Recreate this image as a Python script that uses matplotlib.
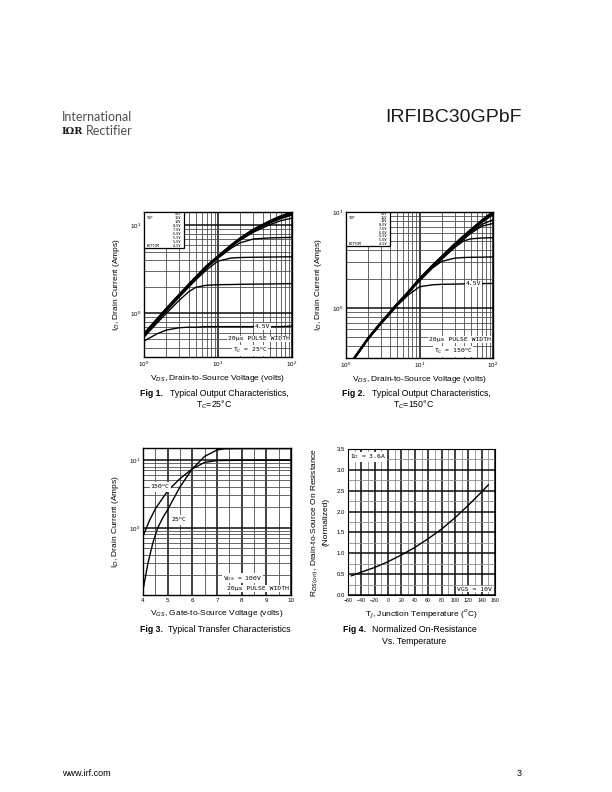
import numpy as np
import matplotlib.pyplot as plt
from matplotlib.patches import Rectangle
from matplotlib.ticker import LogLocator, NullFormatter, LogFormatterSciNotation, MultipleLocator

plt.rcParams['font.family'] = ['Liberation Sans', 'DejaVu Sans']
plt.rcParams['mathtext.fontset'] = 'dejavusans'

# Fig 1 - output characteristics, Tc = 25C
vds1 = [1, 1.5, 2, 3, 4, 5, 7, 10, 15, 20, 30, 50, 70, 100]
id1_15v = [0.58, 0.85, 1.12, 1.62, 2.1, 2.56, 3.42, 4.42, 5.9, 7.1, 8.9, 11.1, 12.6, 14.0]
id1_10v = [0.57, 0.84, 1.11, 1.61, 2.08, 2.53, 3.38, 4.37, 5.82, 7.0, 8.75, 10.9, 12.3, 13.6]
id1_8v = [0.57, 0.84, 1.1, 1.6, 2.07, 2.51, 3.35, 4.33, 5.75, 6.9, 8.6, 10.6, 11.9, 13.1]
id1_7v = [0.56, 0.83, 1.09, 1.58, 2.05, 2.49, 3.32, 4.28, 5.65, 6.75, 8.3, 10.1, 11.2, 12.0]
id1_6v = [0.56, 0.82, 1.07, 1.56, 2.02, 2.46, 3.27, 4.2, 5.45, 6.3, 6.95, 7.15, 7.2, 7.25]
id1_5v5 = [0.55, 0.8, 1.05, 1.52, 1.96, 2.38, 3.1, 3.9, 4.22, 4.28, 4.31, 4.33, 4.35, 4.36]
id1_5v = [0.53, 0.77, 0.99, 1.4, 1.74, 1.96, 2.07, 2.1, 2.11, 2.12, 2.13, 2.14, 2.15, 2.16]
id1_4v5 = [0.48, 0.58, 0.64, 0.68, 0.69, 0.69, 0.7, 0.7, 0.7, 0.7, 0.7, 0.7, 0.7, 0.71]

# Fig 2 - output characteristics, Tc = 150C
vds2 = [1.3, 1.5, 2, 3, 4, 5, 7, 10, 15, 20, 30, 40, 50, 70, 100]
id2_15v = [0.3, 0.35, 0.48, 0.7, 0.9, 1.1, 1.45, 2.0, 2.75, 3.4, 4.6, 5.6, 6.5, 8.1, 10.0]
id2_10v = [0.3, 0.35, 0.48, 0.7, 0.9, 1.1, 1.45, 1.99, 2.74, 3.38, 4.57, 5.55, 6.45, 8.0, 9.8]
id2_8v = [0.3, 0.35, 0.48, 0.7, 0.9, 1.1, 1.44, 1.98, 2.72, 3.36, 4.52, 5.5, 6.35, 7.8, 9.4]
id2_7v = [0.3, 0.35, 0.48, 0.7, 0.9, 1.1, 1.44, 1.97, 2.7, 3.34, 4.48, 5.42, 6.2, 7.4, 8.3]
id2_6v = [0.3, 0.35, 0.48, 0.7, 0.9, 1.1, 1.44, 1.96, 2.68, 3.3, 4.4, 5.2, 6.0, 7.1, 7.6]
id2_5v5 = [0.3, 0.35, 0.48, 0.7, 0.9, 1.1, 1.43, 1.95, 2.65, 3.2, 4.25, 5.0, 5.25, 5.35, 5.4]
id2_5v = [0.3, 0.35, 0.48, 0.69, 0.89, 1.09, 1.42, 1.9, 2.6, 3.05, 3.3, 3.35, 3.37, 3.38, 3.4]
id2_4v5 = [0.3, 0.35, 0.47, 0.68, 0.87, 1.06, 1.36, 1.66, 1.74, 1.76, 1.77, 1.78, 1.78, 1.79, 1.8]

# Fig 3 - transfer characteristics
vgs_150 = [4, 4.25, 4.5, 5, 5.5, 6, 6.5, 7, 8, 10]
id_150 = [0.75, 1.25, 1.9, 3.5, 5.3, 7.4, 9.2, 9.8, 9.9, 9.9]
vgs_25 = [4, 4.2, 4.4, 4.6, 4.8, 5, 5.5, 6, 6.5, 7, 7.3, 8, 10]
id_25 = [0.12, 0.3, 0.6, 1.0, 1.4, 1.85, 4.0, 7.4, 11.3, 14.0, 14.6, 14.7, 14.7]

# Fig 4 - normalized on-resistance vs temperature
tj = [-55, -40, -20, 0, 20, 40, 60, 80, 100, 120, 140, 150]
rds_norm = [0.46, 0.55, 0.66, 0.8, 0.96, 1.14, 1.35, 1.58, 1.85, 2.15, 2.47, 2.64]

vgs_table = ['VGS', '15V', '10V', '8.0V', '7.0V', '6.0V', '5.5V', '5.0V', '4.5V']

W, H = 612, 792
fig = plt.figure(figsize=(W / 100, H / 100), dpi=100)


def px_axes(left, top, right, bottom):
    return fig.add_axes([left / W, 1 - bottom / H, (right - left) / W, (bottom - top) / H])


def style_log(ax, logx=True):
    if logx:
        ax.set_xscale('log')
    ax.set_yscale('log')
    for axis in ([ax.xaxis, ax.yaxis] if logx else [ax.yaxis]):
        axis.set_major_locator(LogLocator(base=10))
        axis.set_minor_locator(LogLocator(base=10, subs=np.arange(2, 10)))
        axis.set_major_formatter(LogFormatterSciNotation())
        axis.set_minor_formatter(NullFormatter())
    ax.grid(which='major', color='0.05', lw=1.1)
    ax.grid(which='minor', color='0.3', lw=0.6)
    ax.tick_params(which='both', length=0, labelsize=4.5, pad=2)
    for s in ax.spines.values():
        s.set_linewidth(1.0)


def vgs_box(ax, w, h):
    ax.add_patch(Rectangle((0, 1 - h), w, h, transform=ax.transAxes, fc='white',
                           ec='black', lw=0.9, zorder=5))
    for i, t in enumerate(vgs_table):
        y = 1 - h + h * (len(vgs_table) - i - 0.5) / len(vgs_table)
        ax.text(w - 0.02, y, t, transform=ax.transAxes, fontsize=2.6, ha='right',
                va='center', family='DejaVu Sans Mono', zorder=6)
    ax.text(0.02, 1 - h + h * 7.5 / 9, 'TOP', transform=ax.transAxes, fontsize=2.6,
            va='center', family='DejaVu Sans Mono', zorder=6)
    ax.text(0.02, 1 - h + h * 0.5 / 9, 'BOTTOM', transform=ax.transAxes, fontsize=2.6,
            va='center', family='DejaVu Sans Mono', zorder=6)


mono = dict(family='DejaVu Sans Mono', fontsize=4.6)
wbox = dict(fc='white', ec='none', pad=0.6)

# ---- Fig 1
ax1 = px_axes(144, 212, 292, 357)
style_log(ax1)
for ys, lw in [(id1_15v, 1.6), (id1_10v, 1.4), (id1_8v, 1.3), (id1_7v, 1.0),
               (id1_6v, 1.0), (id1_5v5, 1.0), (id1_5v, 1.0), (id1_4v5, 1.0)]:
    ax1.plot(vds1, ys, color='black', lw=lw, zorder=3)
ax1.set_xlim(1, 100)
ax1.set_ylim(0.316, 14.1)
vgs_box(ax1, 0.27, 0.25)
ax1.text(40, 0.7, '4.5V', ha='center', va='center', zorder=4, bbox=wbox, **mono)
ax1.text(0.985, 0.125, '20µs PULSE WIDTH', transform=ax1.transAxes, ha='right',
         va='center', zorder=4, bbox=wbox, **mono)
ax1.text(0.6, 0.045, 'T$_C$ = 25$^o$C', transform=ax1.transAxes, ha='left',
         va='center', zorder=4, bbox=wbox, **mono)
ax1.set_ylabel('I$_D$, Drain Current (Amps)', fontsize=6, labelpad=6)
ax1.set_xlabel('V$_{DS}$, Drain-to-Source Voltage (volts)', fontsize=6, labelpad=3)

# ---- Fig 2
ax2 = px_axes(346, 212, 493, 358)
style_log(ax2)
for ys, lw in [(id2_15v, 1.8), (id2_10v, 1.5), (id2_8v, 1.3), (id2_7v, 1.0),
               (id2_6v, 1.0), (id2_5v5, 1.0), (id2_5v, 1.0), (id2_4v5, 1.0)]:
    ax2.plot(vds2, ys, color='black', lw=lw, zorder=3)
ax2.set_xlim(1, 100)
ax2.set_ylim(0.3, 10)
vgs_box(ax2, 0.3, 0.23)
ax2.text(55, 1.78, '4.5V', ha='center', va='center', zorder=4, bbox=wbox, **mono)
ax2.text(0.985, 0.125, '20µs PULSE WIDTH', transform=ax2.transAxes, ha='right',
         va='center', zorder=4, bbox=wbox, **mono)
ax2.text(0.6, 0.045, 'T$_C$ = 150$^o$C', transform=ax2.transAxes, ha='left',
         va='center', zorder=4, bbox=wbox, **mono)
ax2.set_ylabel('I$_D$, Drain Current (Amps)', fontsize=6, labelpad=6)
ax2.set_xlabel('V$_{DS}$, Drain-to-Source Voltage (volts)', fontsize=6, labelpad=3)

# ---- Fig 3
ax3 = px_axes(143, 448, 291, 595)
style_log(ax3, logx=False)
ax3.xaxis.set_major_locator(MultipleLocator(1))
ax3.xaxis.set_minor_locator(MultipleLocator(0.5))
ax3.plot(vgs_150, id_150, color='black', lw=1.0, zorder=3)
ax3.plot(vgs_25, id_25, color='black', lw=1.0, zorder=3)
ax3.set_xlim(4, 10)
ax3.set_ylim(0.102, 15)
ax3.text(4.3, 4.0, '150$^o$C', ha='left', va='center', zorder=4, bbox=wbox, **mono)
ax3.text(5.12, 1.3, '25$^o$C', ha='left', va='center', zorder=4, bbox=wbox, **mono)
ax3.text(0.54, 0.115, 'V$_{DS}$ = 100V', transform=ax3.transAxes, ha='left',
         va='center', zorder=4, bbox=wbox, **mono)
ax3.text(0.985, 0.045, '20µs PULSE WIDTH', transform=ax3.transAxes, ha='right',
         va='center', zorder=4, bbox=wbox, **mono)
ax3.set_ylabel('I$_D$, Drain Current (Amps)', fontsize=6, labelpad=6)
ax3.set_xlabel('V$_{GS}$, Gate-to-Source Voltage (volts)', fontsize=6, labelpad=4)

# ---- Fig 4
ax4 = px_axes(348, 449, 495, 595)
ax4.plot(tj, rds_norm, color='black', lw=1.0, zorder=3)
ax4.set_xlim(-60, 160)
ax4.set_ylim(0, 3.5)
ax4.set_xticks(np.arange(-60, 161, 20))
ax4.set_yticks(np.arange(0, 3.51, 0.5))
ax4.set_yticklabels([f'{v:.1f}' for v in np.arange(0, 3.51, 0.5)])
ax4.xaxis.set_minor_locator(MultipleLocator(10))
ax4.yaxis.set_minor_locator(MultipleLocator(0.25))
ax4.grid(which='major', color='0.05', lw=1.1)
ax4.grid(which='minor', color='0.55', lw=0.6)
ax4.tick_params(axis='x', which='both', length=0, labelsize=3.8, pad=2)
ax4.tick_params(axis='y', which='both', length=0, labelsize=4.3, pad=2)
ax4.text(-57, 3.42, 'I$_D$ = 3.6A', ha='left', va='top', zorder=4, bbox=wbox, **mono)
ax4.text(155, 0.08, 'VGS = 10V', ha='right', va='bottom', zorder=4, bbox=wbox, **mono)
ax4.set_ylabel('R$_{DS(on)}$, Drain-to-Source On Resistance\n(Normalized)',
               fontsize=6, labelpad=5, linespacing=1.3)
ax4.set_xlabel('T$_J$, Junction Temperature ($^o$C)', fontsize=6, labelpad=4)

# ---- captions
cap = 6.3
fig.text(140 / W, 1 - 393 / H, 'Fig 1.', fontsize=cap, weight='bold', va='center')
fig.text(170 / W, 1 - 393 / H, 'Typical Output Characteristics,', fontsize=cap, va='center')
fig.text(214 / W, 1 - 405 / H, 'T$_C$=25°C', fontsize=cap, va='center', ha='center')
fig.text(342 / W, 1 - 393 / H, 'Fig 2.', fontsize=cap, weight='bold', va='center')
fig.text(372 / W, 1 - 393 / H, 'Typical Output Characteristics,', fontsize=cap, va='center')
fig.text(414 / W, 1 - 405 / H, 'T$_C$=150°C', fontsize=cap, va='center', ha='center')
fig.text(140 / W, 1 - 629 / H, 'Fig 3.', fontsize=cap, weight='bold', va='center')
fig.text(168 / W, 1 - 629 / H, 'Typical Transfer Characteristics', fontsize=cap, va='center')
fig.text(343 / W, 1 - 630 / H, 'Fig 4.', fontsize=cap, weight='bold', va='center')
fig.text(372 / W, 1 - 630 / H, 'Normalized On-Resistance', fontsize=cap, va='center')
fig.text(414 / W, 1 - 642 / H, 'Vs. Temperature', fontsize=cap, va='center', ha='center')

# ---- page header / footer
fig.text(62 / W, 1 - 117 / H, 'International', fontsize=9, family='Lato',
         color='0.3', va='center')
fig.text(62 / W, 1 - 131 / H, 'IΩR', fontsize=7, family='DejaVu Serif',
         weight='bold', color='0.1', va='center')
fig.text(86 / W, 1 - 131 / H, 'Rectifier', fontsize=9, family='Lato',
         color='0.3', va='center')
fig.text(522 / W, 1 - 118 / H, 'IRFIBC30GPbF', fontsize=14, ha='right', va='center',
         color='0.1')
fig.text(62 / W, 1 - 773 / H, 'www.irf.com', fontsize=6.5, va='center')
fig.text(522 / W, 1 - 773 / H, '3', fontsize=6.5, va='center', ha='right')

fig.savefig('out.png', dpi=100)
